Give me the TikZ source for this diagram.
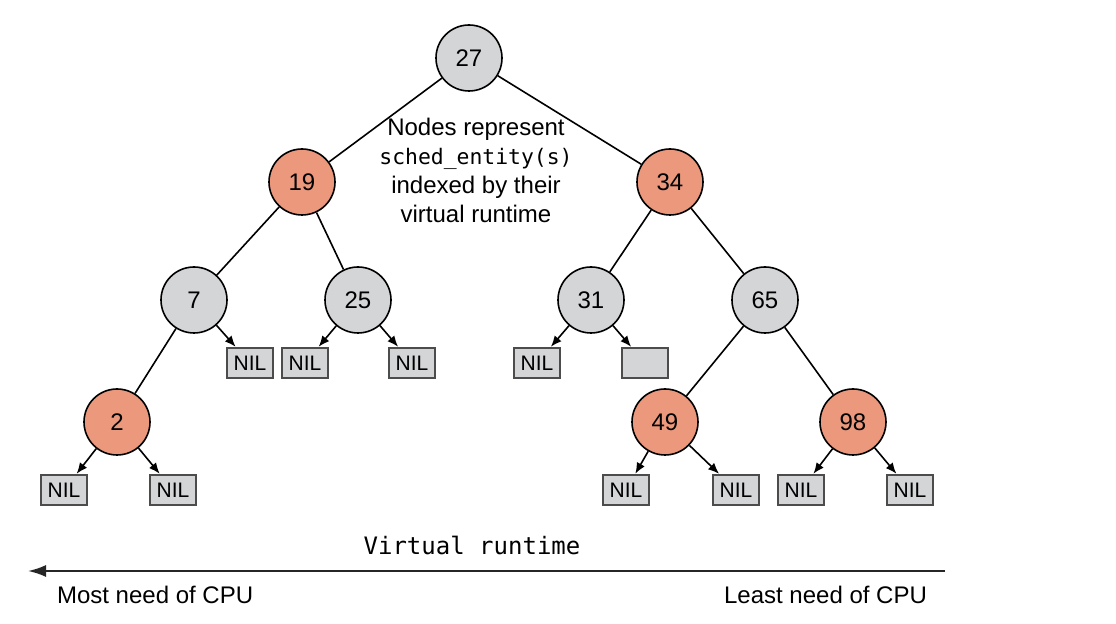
\documentclass[tikz,border=0pt]{standalone}
\usepackage{fontspec}
\setmainfont{Liberation Sans}
\setmonofont{DejaVu Sans Mono}
\usepackage{xcolor}
\usetikzlibrary{shapes,arrows,arrows.meta}
\definecolor{nodegray}{RGB}{212,213,215}
\definecolor{nodered}{RGB}{236,152,124}

\begin{document}
\begin{tikzpicture}[x=0.5pt, y=-0.5pt, >={Latex[length=5.5pt,width=4.5pt]},
    tnode/.style={draw, circle, minimum size=33pt, inner sep=0pt, line width=0.8pt, font=\fontsize{12}{14}\selectfont},
    gnode/.style={tnode, fill=nodegray},
    rnode/.style={tnode, fill=nodered},
    nil/.style={draw=black!70, rectangle, fill=nodegray, line width=1.2pt, minimum width=23pt, minimum height=15pt, inner sep=0pt, font=\fontsize{10.5}{12}\selectfont},
    edge/.style={line width=0.8pt},
    nilarrow/.style={->, line width=0.8pt}]
    \useasboundingbox (0,0) rectangle (1116,624);
    % tree nodes
    \node [gnode] (n27) at (469,58) {27};
    \node [rnode] (n19) at (302,182) {19};
    \node [rnode] (n34) at (670,182) {34};
    \node [gnode] (n7) at (194,300) {7};
    \node [gnode] (n25) at (358,300) {25};
    \node [gnode] (n31) at (591,300) {31};
    \node [gnode] (n65) at (765,300) {65};
    \node [rnode] (n2) at (117,422) {2};
    \node [rnode] (n49) at (665,422) {49};
    \node [rnode] (n98) at (853,422) {98};
    % leaves
    \node [nil] (nil7) at (250,363) {NIL};
    \node [nil] (nil25l) at (305,363) {NIL};
    \node [nil] (nil25r) at (412,363) {NIL};
    \node [nil] (nil31) at (537,363) {NIL};
    \node [nil] (empty31) at (645,363) {};
    \node [nil] (nil2l) at (64,490) {NIL};
    \node [nil] (nil2r) at (173,490) {NIL};
    \node [nil] (nil49l) at (626,490) {NIL};
    \node [nil] (nil49r) at (736,490) {NIL};
    \node [nil] (nil98l) at (801,490) {NIL};
    \node [nil] (nil98r) at (910,490) {NIL};
    % edges
    \draw [edge] (n27) -- (n19);
    \draw [edge] (n27) -- (n34);
    \draw [edge] (n19) -- (n7);
    \draw [edge] (n19) -- (n25);
    \draw [edge] (n34) -- (n31);
    \draw [edge] (n34) -- (n65);
    \draw [edge] (n7) -- (n2);
    \draw [edge] (n65) -- (n49);
    \draw [edge] (n65) -- (n98);
    \draw [nilarrow] (n7) -- (nil7);
    \draw [nilarrow] (n25) -- (nil25l);
    \draw [nilarrow] (n25) -- (nil25r);
    \draw [nilarrow] (n31) -- (nil31);
    \draw [nilarrow] (n31) -- (empty31);
    \draw [nilarrow] (n2) -- (nil2l);
    \draw [nilarrow] (n2) -- (nil2r);
    \draw [nilarrow] (n49) -- (nil49l);
    \draw [nilarrow] (n49) -- (nil49r);
    \draw [nilarrow] (n98) -- (nil98l);
    \draw [nilarrow] (n98) -- (nil98r);
    % caption
    \node [align=center, font=\fontsize{12}{14.5}\selectfont] (caption) at (476,170)
        {Nodes represent\\{\ttfamily\fontsize{10.7}{14.5}\selectfont sched\_entity(s)}\\indexed by their\\virtual runtime};
    % runtime axis
    \coordinate (axisr) at (945,571);
    \coordinate (axisl) at (28,571);
    \draw [-{Latex[length=9pt,width=6pt]}, line width=1pt, black!85] (axisr) -- (axisl);
    \node [font=\ttfamily\fontsize{12}{14}\selectfont] (vrt) at (472,545) {Virtual runtime};
    \node [anchor=west, font=\fontsize{12}{14}\selectfont] (most) at (50,595) {Most need of CPU};
    \node [anchor=east, font=\fontsize{12}{14}\selectfont] (least) at (934,595) {Least need of CPU};
\end{tikzpicture}
\end{document}
